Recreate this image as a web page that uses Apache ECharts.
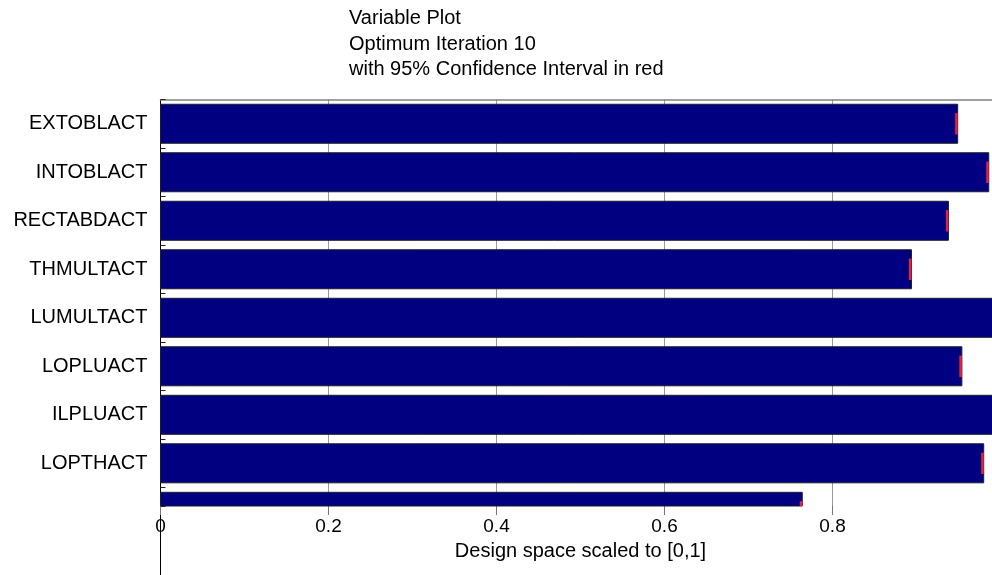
<!DOCTYPE html>
<html>
<head>
<meta charset="utf-8">
<script src="https://cdn.jsdelivr.net/npm/echarts@6/dist/echarts.min.js"></script>
<style>
  html, body { margin: 0; padding: 0; background: #fff; }
  #chart { width: 992px; height: 575px; }
</style>
</head>
<body>
<div id="chart"></div>
<script>
// Design variables (top to bottom); the last row is cut off by the axis
const variables = ['EXTOBLACT', 'INTOBLACT', 'RECTABDACT', 'THMULTACT', 'LUMULTACT', 'LOPLUACT', 'ILPLUACT', 'LOPTHACT', ''];
// Optimum value of each variable, design space scaled to [0,1]
const optimum = [0.949, 0.986, 0.938, 0.894, 1.000, 0.954, 1.000, 0.980, 0.764];
// 95% confidence interval bounds
const ciLow  = [0.946, 0.983, 0.935, 0.891, 0.997, 0.951, 0.997, 0.977, 0.761];
const ciHigh = [0.949, 0.986, 0.938, 0.894, 1.000, 0.954, 1.000, 0.980, 0.764];
// Tick labels of the design-space axis, one per 0.2 step (the 1 falls outside the page)
const xTickLabels = ['0', '0.2', '0.4', '0.6', '0.8', ''];
// Visible extent of the variable axis (rows)
const rowMax = 8.38;

const FONT = 'Liberation Sans, Arial, sans-serif';

const rows = variables.map((name, i) => [i, optimum[i], ciLow[i], ciHigh[i]]);

function renderItem(params, api) {
  const pos = api.value(0) + 0.5;
  const v = api.value(1);
  const lo = api.value(2);
  const hi = api.value(3);
  const band = api.size([0, 1])[1];
  const barH = band * 0.804;
  const ciH = barH * 0.55;
  const cs = params.coordSys;
  const p0 = api.coord([0, pos]);
  const p1 = api.coord([v, pos]);
  const q0 = api.coord([lo, pos]);
  const q1 = api.coord([hi, pos]);
  const children = [];
  const bar = echarts.graphic.clipRectByRect(
    { x: p0[0], y: p0[1] - barH / 2, width: p1[0] - p0[0], height: barH }, cs);
  if (bar) {
    children.push({
      type: 'rect', shape: bar,
      style: { fill: '#000080', stroke: '#1c1c2c', lineWidth: 1 }
    });
  }
  const ci = echarts.graphic.clipRectByRect(
    { x: q0[0], y: q0[1] - ciH / 2, width: Math.max(q1[0] - q0[0], 1.5), height: ciH }, cs);
  if (ci) {
    children.push({
      type: 'rect', shape: ci,
      style: { fill: '#e8203c' }
    });
  }
  return { type: 'group', children: children };
}

const chart = echarts.init(document.getElementById('chart'), null, { renderer: 'canvas' });

chart.setOption({
  animation: false,
  backgroundColor: '#fff',
  title: {
    text: 'Variable Plot\nOptimum Iteration 10\nwith 95% Confidence Interval in red',
    left: 349,
    top: 6,
    padding: 0,
    textStyle: {
      fontFamily: FONT, fontSize: 20, fontWeight: 'normal',
      color: '#000', lineHeight: 25.5
    }
  },
  grid: [
    { left: 160.5, width: 840, top: 99.5, bottom: 69, containLabel: false, outerBoundsMode: 'none' },
    { left: 160.5, width: 840, top: 506, bottom: 0, containLabel: false, outerBoundsMode: 'none' }
  ],
  xAxis: [
    {
      gridIndex: 0, type: 'value', position: 'bottom',
      min: 0, max: 1, interval: 0.2,
      axisLine: { show: false, onZero: false },
      axisTick: { show: true, length: 9, lineStyle: { color: '#777' } },
      splitLine: { show: true, lineStyle: { color: '#9a9a9a', width: 1 } },
      axisLabel: {
        fontFamily: FONT, fontSize: 19, color: '#000', margin: 11,
        formatter: function (v) { return xTickLabels[Math.round(v / 0.2)] || ''; }
      },
      name: 'Design space scaled to [0,1]',
      nameLocation: 'middle',
      nameGap: 35,
      nameTextStyle: { fontFamily: FONT, fontSize: 20, color: '#000' }
    },
    {
      gridIndex: 0, type: 'value', position: 'top',
      min: 0, max: 1, interval: 0.2,
      axisLine: { show: true, onZero: false, lineStyle: { color: '#808080', width: 1.5 } },
      axisTick: { show: false },
      axisLabel: { show: false },
      splitLine: { show: false }
    },
    {
      gridIndex: 1, type: 'value', min: 0, max: 1, show: false
    }
  ],
  yAxis: [
    {
      gridIndex: 0, type: 'value', position: 'left', inverse: true,
      min: 0, max: rowMax, interval: 1,
      axisLine: { show: true, onZero: false, lineStyle: { color: '#000', width: 1 } },
      axisTick: { show: true, inside: true, length: 5, lineStyle: { color: '#222' } },
      axisLabel: { show: false },
      splitLine: { show: false }
    },
    {
      gridIndex: 0, type: 'value', position: 'left', inverse: true,
      min: 0, max: rowMax, interval: 0.5,
      axisLine: { show: false, onZero: false },
      axisTick: { show: false },
      splitLine: { show: false },
      axisLabel: {
        fontFamily: FONT, fontSize: 20, color: '#000', margin: 13,
        padding: [8, 0, 0, 0],
        formatter: function (v) {
          const k = Math.floor(v);
          return Math.abs(v - k - 0.5) < 1e-6 ? (variables[k] || '') : '';
        }
      }
    },
    {
      gridIndex: 1, type: 'value', position: 'left', min: 0, max: 1,
      axisLine: { show: true, onZero: false, lineStyle: { color: '#000', width: 1 } },
      axisTick: { show: false },
      axisLabel: { show: false },
      splitLine: { show: false }
    }
  ],
  series: [
    {
      type: 'custom',
      xAxisIndex: 0,
      yAxisIndex: 0,
      renderItem: renderItem,
      encode: { x: [1, 2, 3], y: 0 },
      data: rows,
      z: 3
    }
  ]
});
</script>
</body>
</html>
